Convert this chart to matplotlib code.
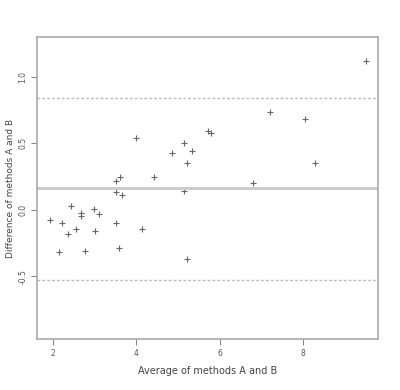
import numpy as np
import matplotlib.pyplot as plt

# Bland-Altman style data
avg_ab = [1.93, 2.22, 2.36, 2.43, 2.55, 2.67, 2.67, 2.98, 3.10, 3.01,
          3.51, 3.58, 3.51, 3.65, 3.51, 3.61, 3.99, 4.13, 4.42, 4.85,
          5.14, 5.21, 5.14, 5.21, 5.33, 5.72, 5.79, 6.80, 7.20, 8.04,
          8.28, 9.51, 2.14, 2.77]
diff_ab = [-0.075, -0.098, -0.18, 0.03, -0.14, -0.023, -0.045, 0.008, -0.03, -0.16,
           -0.10, -0.29, 0.135, 0.11, 0.22, 0.25, 0.54, -0.14, 0.25, 0.43,
           0.50, 0.35, 0.14, -0.37, 0.44, 0.59, 0.58, 0.20, 0.74, 0.68,
           0.35, 1.12, -0.32, -0.31]
mean_diff = 0.165
upper_loa = 0.84
lower_loa = -0.53

x_ticks = [2, 4, 6, 8]
y_ticks = [-0.5, 0.0, 0.5, 1.0]

fig = plt.figure(figsize=(4, 3.9), dpi=100)
ax = fig.add_axes([0.0925, 0.131, 0.8525, 0.774])

ax.scatter(avg_ab, diff_ab, marker="+", s=22, color="#666666", linewidths=0.8)

ax.axhline(mean_diff, color="#cccccc", lw=2.2)
ax.axhline(upper_loa, color="#bbbbbb", lw=1, ls=(0, (2, 1.5)))
ax.axhline(lower_loa, color="#bbbbbb", lw=1, ls=(0, (2, 1.5)))

ax.set_xlim(1.62, 9.8)
ax.set_ylim(-0.97, 1.30)
ax.set_xticks(x_ticks)
ax.set_xticklabels([str(v) for v in x_ticks])
ax.set_yticks(y_ticks)
ax.set_yticklabels(["%.1f" % v for v in y_ticks], rotation=90, va="center")

for sp in ax.spines.values():
    sp.set_color("#aaaaaa")
    sp.set_linewidth(1.2)
ax.tick_params(direction="out", length=4, width=0.8, color="#888888",
               labelsize=5.5, labelcolor="#555555", pad=3)

ax.set_xlabel("Average of methods A and B", fontsize=7, color="#444444", labelpad=6)
ax.set_ylabel("Difference of methods A and B", fontsize=6.5, color="#444444", labelpad=2)

fig.savefig("out.png", dpi=100)
